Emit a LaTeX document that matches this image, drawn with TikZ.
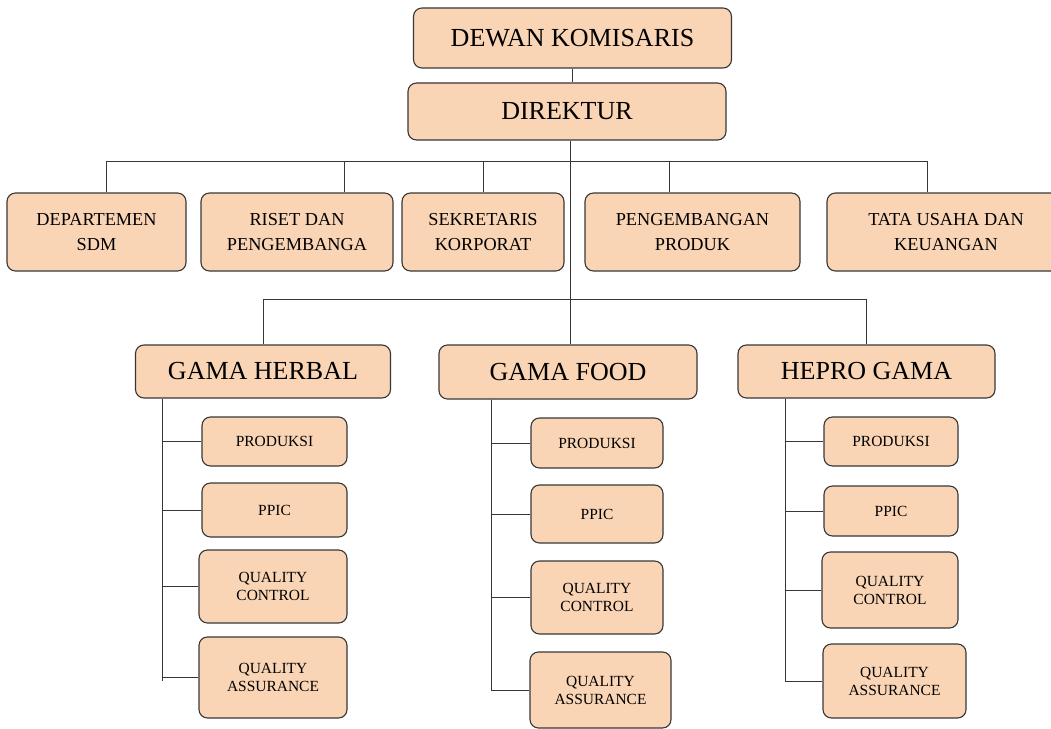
\documentclass[tikz,border=0pt]{standalone}
\usepackage{fontspec}
\setmainfont{Liberation Serif}
\usetikzlibrary{calc}
\definecolor{peach}{RGB}{250,213,181}
\definecolor{edge}{RGB}{55,55,55}
\tikzset{
  box/.style 2 args={draw=edge, fill=peach, rounded corners=6pt, line width=0.8pt,
    align=center, inner sep=0pt, minimum width=#1*0.025cm, minimum height=#2*0.025cm},
  bigtext/.style={font=\fontsize{18.5}{22}\selectfont},
  midtext/.style={font=\fontsize{13}{17.5}\selectfont},
  smalltext/.style={font=\fontsize{11}{12.8}\selectfont},
  link/.style={draw=edge, line width=0.7pt}
}
\begin{document}
\begin{tikzpicture}[x=0.025cm, y=-0.025cm]
\useasboundingbox (0,0) rectangle (1051,729);

% top
\node[box={318}{60}, bigtext] (dk) at (572.5,38) {DEWAN KOMISARIS};
\node[box={318}{57}, bigtext] (dir) at (567,111.5) {DIREKTUR};

% staff row
\node[box={179}{78}, midtext] (sdm) at (96.5,232) {DEPARTEMEN\\SDM};
\node[box={192}{78}, midtext] (rnd) at (297,232) {RISET DAN\\PENGEMBANGA};
\node[box={162}{78}, midtext] (sekr) at (483,232) {SEKRETARIS\\KORPORAT};
\node[box={215}{78}, midtext] (pp) at (692.5,232) {PENGEMBANGAN\\PRODUK};
\node[box={238}{78}, midtext] (tu) at (946,232) {TATA USAHA DAN\\KEUANGAN};

% units
\node[box={255}{53}, bigtext] (herbal) at (263,371.5) {GAMA HERBAL};
\node[box={258}{54}, bigtext] (food) at (568,372) {GAMA FOOD};
\node[box={257}{53}, bigtext] (hepro) at (866.5,371.5) {HEPRO GAMA};

% gama herbal
\node[box={145}{49}, smalltext] (hb1) at (274.5,441.5) {PRODUKSI};
\node[box={145}{54}, smalltext] (hb2) at (274.5,510) {PPIC};
\node[box={148}{73}, smalltext] (hb3) at (273,586.5) {QUALITY\\CONTROL};
\node[box={148}{81}, smalltext] (hb4) at (273,677.5) {QUALITY\\ASSURANCE};

% gama food
\node[box={132}{50}, smalltext] (fd1) at (597,443) {PRODUKSI};
\node[box={132}{58}, smalltext] (fd2) at (597,514) {PPIC};
\node[box={132}{73}, smalltext] (fd3) at (597,597.5) {QUALITY\\CONTROL};
\node[box={141}{76}, smalltext] (fd4) at (600.5,690) {QUALITY\\ASSURANCE};

% hepro gama
\node[box={134}{49}, smalltext] (hp1) at (891,441.5) {PRODUKSI};
\node[box={134}{50}, smalltext] (hp2) at (891,511) {PPIC};
\node[box={136}{76}, smalltext] (hp3) at (890,590) {QUALITY\\CONTROL};
\node[box={143}{74}, smalltext] (hp4) at (894.5,681) {QUALITY\\ASSURANCE};

% lines
\coordinate (trunk) at (570,162);
\draw[link] (dk.south) -- (dk.south |- dir.north);
\draw[link] (dir.south -| trunk) -- (food.north -| trunk);
\draw[link] ($(sdm.north)+(10,0)$) -- ++(0,-31) -| ($(tu.north)+(-19,0)$);
\draw[link] ($(rnd.north)+(47,0)$) -- ++(0,-31);
\draw[link] (sekr.north) -- ++(0,-31);
\draw[link] ($(pp.north)+(-23,0)$) -- ++(0,-31);
\draw[link] (herbal.north) -- ++(0,-45) -| (hepro.north);

\coordinate (hbx) at (162,681);
\coordinate (fdx) at (491,690);
\coordinate (hpx) at (785,682);
\draw[link] (herbal.south -| hbx) -- (hbx);
\draw[link] (food.south -| fdx) -- (fdx);
\draw[link] (hepro.south -| hpx) -- (hpx);
\foreach \i in {1,...,4} {
  \draw[link] (hbx |- hb\i.west) -- (hb\i.west);
  \draw[link] (fdx |- fd\i.west) -- (fd\i.west);
  \draw[link] (hpx |- hp\i.west) -- (hp\i.west);
}
\end{tikzpicture}
\end{document}
